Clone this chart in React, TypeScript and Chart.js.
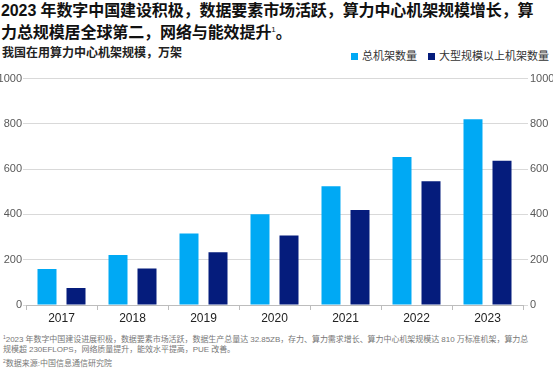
import React, { useEffect, useRef } from "react";
import { Chart, registerables } from "chart.js";

Chart.register(...registerables);

const years = ["2017", "2018", "2019", "2020", "2021", "2022", "2023"];
const totalRacks = [159, 221, 316, 401, 524, 654, 821];
const largeRacks = [75, 161, 233, 307, 420, 547, 637];
const yTicks = [0, 200, 400, 600, 800, 1000];
const seriesNames = ["总机架数量", "大型规模以上机架数量"];
const colors = ["#00A9F4", "#051C7C"];

const FONT = '"Liberation Sans", Arial, "Noto Sans CJK SC", sans-serif';

export default function App() {
  const ref = useRef<HTMLCanvasElement | null>(null);

  useEffect(() => {
    document.body.style.margin = "0";
    const ctx = ref.current!;
    const fmt = (v: any) => String(v);
    const chart = new Chart(ctx, {
      type: "bar",
      data: {
        labels: years,
        datasets: [
          {
            label: seriesNames[0],
            data: totalRacks,
            backgroundColor: colors[0],
            categoryPercentage: 0.817,
            barPercentage: 0.655,
            yAxisID: "y",
          },
          {
            label: seriesNames[1],
            data: largeRacks,
            backgroundColor: colors[1],
            categoryPercentage: 0.817,
            barPercentage: 0.655,
            yAxisID: "y",
          },
        ],
      },
      options: {
        animation: false,
        responsive: false,
        maintainAspectRatio: false,
        layout: { padding: { top: 8.5, bottom: 0, left: 0, right: 0 } },
        plugins: {
          legend: { display: false },
          tooltip: { enabled: false },
        },
        scales: {
          x: {
            grid: {
              display: true,
              drawOnChartArea: false,
              drawTicks: true,
              tickLength: 5,
              color: "#bdbdbd",
            },
            border: { display: true, color: "#bdbdbd" },
            ticks: {
              color: "#222",
              font: { family: FONT, size: 12 },
              padding: 1,
            },
            afterFit: (s: any) => {
              s.height = 25;
            },
          },
          y: {
            position: "left",
            min: 0,
            max: 1000,
            afterBuildTicks: (s: any) => {
              s.ticks = yTicks.map((v) => ({ value: v }));
            },
            grid: {
              color: "#d9d9d9",
              tickLength: 3,
              drawTicks: true,
            },
            border: { display: false },
            ticks: {
              color: "#595959",
              font: { family: FONT, size: 11 },
              padding: 1,
              callback: fmt,
            },
            afterFit: (s: any) => {
              s.width = 26;
            },
          },
          y2: {
            position: "right",
            min: 0,
            max: 1000,
            afterBuildTicks: (s: any) => {
              s.ticks = yTicks.map((v) => ({ value: v }));
            },
            grid: {
              drawOnChartArea: false,
              color: "#d9d9d9",
              tickLength: 5,
              drawTicks: true,
            },
            border: { display: false },
            ticks: {
              color: "#595959",
              font: { family: FONT, size: 11 },
              padding: 2,
              callback: fmt,
            },
            afterFit: (s: any) => {
              s.width = 30;
            },
          },
        },
      },
    });
    return () => chart.destroy();
  }, []);

  const sq = (c: string) => (
    <span
      style={{
        display: "inline-block",
        width: 7,
        height: 7,
        background: c,
        marginRight: 4,
        verticalAlign: "middle",
        position: "relative",
        top: -1,
      }}
    />
  );

  return (
    <div
      style={{
        position: "absolute",
        left: 0,
        top: 0,
        width: 553,
        height: 378,
        background: "#fff",
        overflow: "hidden",
        fontFamily: FONT,
      }}
    >
      <div
        style={{
          position: "absolute",
          left: 1,
          top: 1,
          fontSize: 16,
          lineHeight: "19px",
          fontWeight: "bold",
          color: "#111",
          whiteSpace: "nowrap",
          letterSpacing: -0.1,
        }}
      >
        2023 年数字中国建设积极，数据要素市场活跃，算力中心机架规模增长，算
        <br />
        力总规模居全球第二，网络与能效提升
        <sup style={{ fontSize: 8, fontWeight: "normal", verticalAlign: "6px" }}>1</sup>。
      </div>
      <div
        style={{
          position: "absolute",
          left: 2,
          top: 45,
          fontSize: 12,
          lineHeight: "16px",
          fontWeight: "bold",
          color: "#222",
          whiteSpace: "nowrap",
        }}
      >
        我国在用算力中心机架规模，万架
      </div>
      <div
        style={{
          position: "absolute",
          left: 351,
          top: 49,
          fontSize: 11,
          lineHeight: "14px",
          color: "#333",
          whiteSpace: "nowrap",
        }}
      >
        {sq(colors[0])}
        {seriesNames[0]}
        <span style={{ display: "inline-block", width: 11 }} />
        {sq(colors[1])}
        {seriesNames[1]}
      </div>
      <canvas
        ref={ref}
        width={553}
        height={260}
        style={{ position: "absolute", left: 0, top: 70, width: 553, height: 260 }}
      />
      <div
        style={{
          position: "absolute",
          left: 3,
          top: 332,
          fontSize: 8,
          lineHeight: "10px",
          color: "#777",
          whiteSpace: "nowrap",
          letterSpacing: -0.05,
        }}
      >
        <sup style={{ fontSize: 5, verticalAlign: "3px" }}>1</sup>
        2023 年数字中国建设进展积极，数据要素市场活跃，数据生产总量达 32.85ZB，存力、算力需求增长、算力中心机架规模达 810 万标准机架，算力总
        <br />
        规模超 230EFLOPS，网络质量提升，能效水平提高，PUE 改善。
      </div>
      <div
        style={{
          position: "absolute",
          left: 3,
          top: 356,
          fontSize: 8,
          lineHeight: "10px",
          color: "#777",
          whiteSpace: "nowrap",
        }}
      >
        <sup style={{ fontSize: 5, verticalAlign: "3px" }}>2</sup>
        数据来源:中国信息通信研究院
      </div>
    </div>
  );
}
